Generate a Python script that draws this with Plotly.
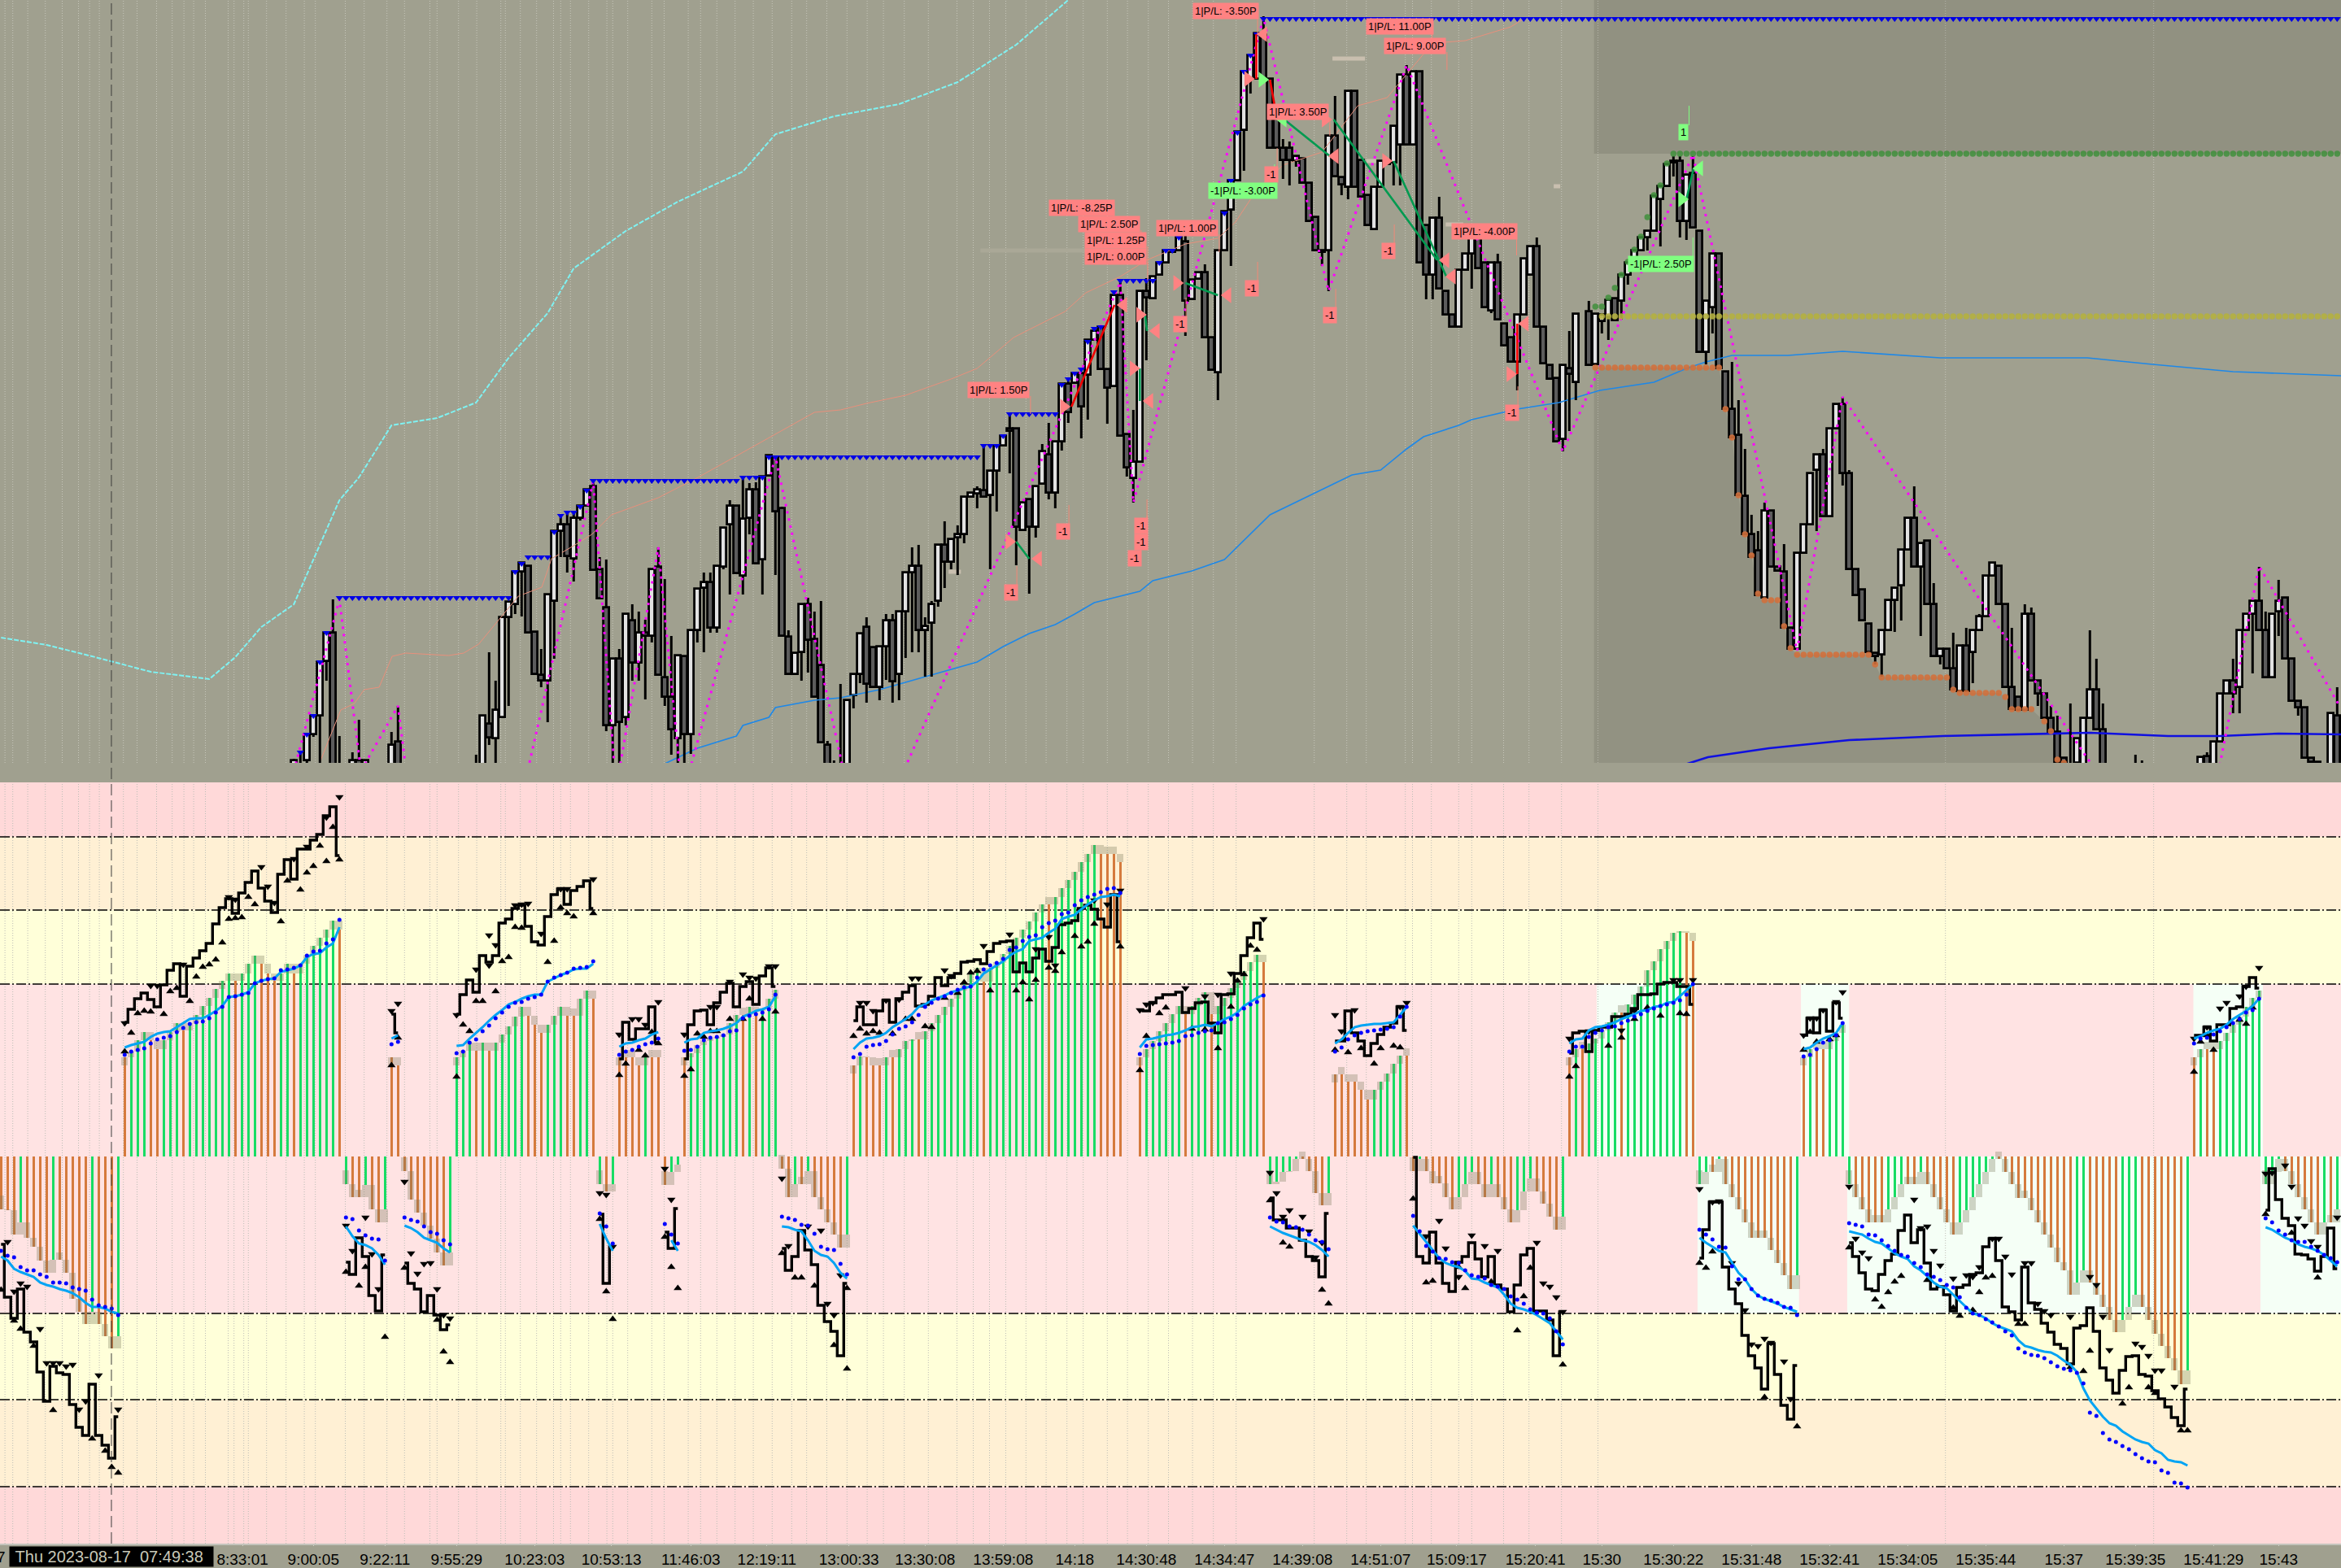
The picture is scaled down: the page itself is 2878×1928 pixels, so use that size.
import plotly.graph_objects as go
from plotly.subplots import make_subplots

# ---------- upper panel: candles (bar, open, high, low, close) ----------
candles_a = [(45,-5,7,-15,5),(46,-10,15,-20,-5),(47,5,37,-10,37),(48,37,60,34,60),(49,60,126,-20,126),(50,127,162,103,162),
(51,162,203,-20,-20),(52,-10,35,-20,-15),(54,-5,15,-20,5),(55,5,55,-20,-5),(56,-5,5,-20,5),(60,-20,40,-20,24),(61,28,72,-20,-20)]
candles_b = [(73,-20,12,-20,-10),(74,-20,60,-20,60),(75,50,138,24,33),(76,32,103,-20,67),(77,58,181,58,181),(78,181,200,72,200),
(79,197,237,185,237),(80,237,248,182,248),(81,244,244,162,162),(82,163,163,111,111),(83,110,142,95,103),(84,103,209,52,209),
(85,201,287,130,287),(86,287,305,255,295),(87,295,310,236,256),(88,253,310,225,303),(89,303,318,300,318),(90,318,338,318,338),
(91,342,348,239,239),(92,240,255,204,204),(93,193,252,41,48),(94,48,130,-20,130),(95,130,142,-20,52),(96,58,185,48,185),
(97,177,197,103,125),(98,125,188,103,162),(99,162,178,80,158),(100,158,240,150,240),(101,243,267,110,110),(102,107,228,72,83),
(103,83,158,12,43),(104,32,134,-20,134),(105,133,133,-20,37),(106,37,165,13,165),(107,165,216,150,216),(108,217,236,138,224),
(109,224,236,162,168),(110,168,244,162,244),(111,243,291,240,291),(112,295,325,209,318),(113,318,318,235,235),(114,232,355,209,302),
(115,303,346,283,338),(116,338,347,247,247),(117,252,354,209,354),(118,355,380,355,380),(119,378,378,233,311),(120,315,317,158,158),
(121,157,165,111,111),(122,111,137,111,137),(123,138,197,103,197),(124,197,205,113,153)]
candles_c = [(125,154,188,83,83),(126,122,201,27,27),(127,24,29,-20,-20),(128,-5,5,-20,-10),(129,-10,99,-20,-5),(130,-20,79,-20,79),
(131,85,111,69,111),(132,111,161,100,161),(133,169,181,76,99),(134,144,144,95,95),(135,95,145,79,145),(136,145,185,104,177),
(137,177,185,76,102),(138,111,188,79,188),(139,188,236,131,236),(140,236,267,138,244),(141,244,270,138,165),(142,165,181,108,170),
(143,174,201,108,197),(144,201,270,194,270),(145,270,299,217,249),(146,249,277,240,277),(147,279,294,233,283),(148,283,329,272,329),
(149,329,334,329,334),(150,333,342,315,338),(151,337,394,329,329),(152,331,361,240,361),(153,361,392,311,392),(154,392,404,392,404),
(155,413,431,358,410),(156,413,413,245,292),(157,288,322,288,322),(158,326,326,210,292),(159,292,342,279,342),(160,345,394,345,385),
(161,381,420,326,334),(162,334,397,315,397),(163,397,468,386,468),(164,468,474,420,433),(165,469,481,469,481),(166,481,481,401,440),
(167,479,522,424,522),(168,522,533,522,533),(169,538,538,486,486),(170,486,486,419,463)]
candles_d = [(171,465,577,465,577),(172,577,593,404,404),(173,406,406,354,365),(174,352,436,322,372),(175,372,582,372,582),(176,582,598,497,574),
(177,573,600,573,600),(178,602,617,602,617),(179,617,632,617,632),(180,630,632,630,632),(181,632,648,632,648),(182,643,652,527,570),
(183,572,596,572,596),(184,597,605,597,605),(185,605,615,525,525),(186,525,525,485,485),(187,482,632,448,632),(188,632,680,632,680),
(189,682,718,613,718),(190,718,778,718,778),(191,780,852,730,852),(192,843,872,825,872),(193,843,899,843,899),(194,897,920,843,843),
(195,843,843,758,758),(196,797,807,758,758),(197,758,769,720,743),(198,758,766,712,743),(199,742,748,735,748),(200,745,745,715,715),
(201,715,715,668,668),(202,673,673,632,632),(203,632,632,613,630),(204,632,773,582,773),(205,773,822,723,723),(206,722,722,700,713),
(207,710,828,695,828),(208,828,828,710,710),(209,743,743,698,698),(210,700,700,663,663),(211,658,710,658,710),(212,710,742,710,742),
(213,738,742,738,742),(214,740,785,712,785),(215,762,848,712,848),(216,848,860,762,762),(217,762,852,762,852),(218,852,852,617,617),
(219,663,663,572,602),(220,602,672,572,672),(221,672,698,585,585),(222,582,582,553,553),(223,553,553,538,538),(224,538,608,538,608),
(225,608,628,608,628),(226,628,647,585,647),(227,647,647,610,610),(228,617,617,562,562),(229,558,617,555,617),(230,617,628,547,547),
(231,542,542,515,515),(232,525,525,495,495),(233,495,553,460,553),(234,553,622,553,622),(235,602,637,602,637),(236,637,648,538,538),(237,538,538,493,493)]
candles_e = [(238,491,491,474,474),(239,475,475,397,397),(240,400,491,385,491),(241,487,533,410,480),(242,470,554,448,554),(244,557,570,491,491),
(245,492,554,492,554),(246,545,553,530,553),(247,550,571,522,571),(248,573,573,546,546),(249,570,602,547,602),(250,602,617,590,617),
(251,617,632,617,632),(252,632,648,632,648),(253,648,656,632,656),(254,656,699,656,699),(255,695,711,637,711),(256,711,738,711,738),
(257,740,748,723,742),(258,742,748,648,668),(259,668,725,645,725),(260,727,748,660,660),(261,656,656,507,507),(262,507,570,492,570),
(263,562,628,530,628),(264,628,628,487,487),(265,483,483,437,437),(266,437,495,402,402),(267,405,448,331,331),(268,330,388,283,283),
(269,283,307,255,255),(270,263,287,208,208),(271,205,322,205,312),(272,312,312,243,243),(273,243,243,238,238),(274,237,271,168,168),
(275,168,168,142,142),(276,142,260,142,260),(277,260,295,260,295),(278,295,358,295,358),(279,362,381,287,381),(280,381,388,305,305),
(281,305,413,305,413),(282,413,443,413,443),(283,443,452,343,358),(284,358,362,240,240),(285,240,240,208,208),(286,215,215,177,177),
(287,173,173,138,138),(288,137,137,123,133),(289,135,165,108,165),(290,165,202,165,202),(291,202,217,163,217),(292,220,264,177,264),
(293,264,303,264,303),(294,303,342,243,243),(295,243,272,158,272),(296,275,275,197,197),(297,197,223,133,133),(298,133,142,123,142),
(299,142,142,118,118),(300,118,162,92,92),(301,90,146,90,146),(302,146,168,90,90),(303,138,165,100,165),(304,165,185,165,182),
(305,182,232,182,232),(306,232,248,232,248),(307,244,244,197,197),(308,197,197,95,95),(309,95,168,68,68),(310,83,83,67,67),
(311,67,197,67,185),(312,185,193,103,103),(313,103,103,72,87),(314,87,87,57,57),(315,57,72,40,40),(316,40,60,3,3),(317,8,8,2,2),
(318,-5,75,-20,-10),(319,2,32,-20,32),(320,0,57,-20,57),(321,57,165,57,92),(322,92,130,43,43),(323,43,75,-20,-5),
(328,-10,12,-20,-5),(329,-10,5,-20,-5)]
candles_f = [(338,-5,9,-20,9),(339,10,15,-20,-5),(340,-5,28,-20,28),(341,28,87,28,87),(342,87,103,87,103),(343,103,130,63,87),
(344,95,165,63,165),(345,165,185,165,185),(346,185,201,112,201),(347,201,243,165,165),(348,165,188,107,107),(349,107,185,107,185),
(350,188,227,158,201),(351,205,205,130,130),(352,130,130,78,78),(353,78,78,60,70),(354,70,70,8,8),(355,8,8,3,3),(356,3,3,-5,0),
(358,-5,63,-20,63),(359,60,95,-20,-5)]

# stepped level marks (first bar, last bar, value)
resist_steps = [(46,46,15),(47,47,37),(48,48,60),(49,49,126),(50,50,162),(52,78,205),(79,79,237),(80,80,247),(81,84,255),(85,85,286),
(86,86,306),(87,88,310),(89,89,317),(90,90,337),(91,113,349),(114,117,353),(118,150,378),(151,153,392),(154,154,404),(155,162,431),
(163,163,467),(164,164,474),(165,165,481),(166,166,486),(167,167,520),(168,168,536),(169,169,538),(171,171,581),(172,177,595),
(178,178,617),(179,180,632),(181,181,648),(188,188,678),(189,189,718),(190,190,777),(191,191,852),(192,192,872),(193,193,898),(194,359,917)]
high_steps = [(245,246,563),(247,247,574),(248,248,586),(249,249,602),(250,250,618),(251,251,633),(252,252,649),(253,253,673),
(254,254,700),(255,255,712),(256,256,739),(257,359,751)]
mid_steps = [(246,359,551)]
low_steps = [(245,264,488),(265,265,437),(266,266,402),(267,267,331),(268,268,283),(269,269,257),(270,270,210),(271,273,202),
(274,274,170),(275,275,143),(276,287,135),(288,288,123),(289,299,107),(300,300,92),(301,307,88),(308,308,83),(309,312,68),
(314,314,53),(315,315,41),(316,316,6),(317,317,2)]

# zigzag, moving averages
zig_bars = [45,52,55.3,61,62.2,72,81,91,94.5,101,104.7,119,132.5,172,174,194,204,216,240,260,276,283,321,331,341,347,359.5]
zig_vals = [-8,203,-8,72,-5,-200,-5,348,-30,267,-40,378,-120,593,322,918,582,860,385,750,140,452,3,-250,1,244,70]
cyan_bars = [0,7,14,23,32,36,40,45,48,52,55,60,67,73,78,84,88,96,104,114,119,128,138,147,156,164]
cyan_vals = [156,147,133,114,105,132,169,197,252,325,353,417,426,445,500,555,610,656,692,729,775,797,812,839,885,940]
salmon_bars = [48.9,52.2,54.3,55.8,58.1,60.1,62.2,68.8,71.1,73.4,76.4,79.5,83.1,84.6,88.2,90.8,93.8,101,107.1,113.2,125,129,133,139,146,150,155.6,163.5,166.7,172,176,182,187,189.7,193,197,203,208.5,213,220,225,232,234]
salmon_vals = [1,67,75,92,95,133,137,134,137,148,177,207,218,253,270,283,307,328,353,380,433,436,444,454,474,487,525,557,580,600,620,640,647,667,707,737,753,810,820,887,890,907,917]
ma_bars = [102,107,113,114,118,119,125,129,135,142,150,154,158,162,165,168,175,177,183,188,195,207.6,212,216,218.6,224,226,233,239.4,245.7,254,259,262,266,274.6,283,298,320.6,330.6,343,359.8]
ma_vals = [1,20,35,48,58,70,79,82,92,108,126,145,161,172,185,199,213,226,238,252,307,356,362,388,403,417,424,437,445,460,470,487,495,503,503,508,500,500,492,483,478]
navy_bars = [258,262.3,271.7,284,298.4,315,321,333,341,350,359.7]
navy_vals = [-2,9,20,30,35,38,39,35,35,38,37]

# faint session smears (first bar, last bar, value)
smears = [(204.6,209.6,868),(222,224.7,664),(209.8,211.3,742),(238.6,239.6,711),(145.6,147.5,237)]
faint_smears = [(150.5,176,632)]

# trades: (entry bar, entry value, exit bar, exit value)
trades_red = [(192.9,898,192.9,843),(195.0,842,196.1,793),(164.5,440,171.1,565),(233,542,233,480)]
trades_green = [(197.2,793,204.2,748),(204.8,793,220.7,620),(214,742,222.1,600),(182,592,187,577),(175.8,553,176.1,533),(175,487,175,447),(156,274,158,253)]
trades_win = [(259,695,260.1,733)]
pink_right = [(191.6,843),(203.5,793),(212.8,742),(163.3,440),(180.7,592),(175,553),(174,487),(231.9,480),(154.9,274)]
pink_left = [(194,898),(205,748),(222,620),(223,600),(172.5,565),(188.5,577),(177.5,533),(176.5,447),(234.2,542),(159.4,253)]
green_right = [(193.8,842),(258.3,695)]
green_left = [(197,793),(261,733)]

pl_text = ["1|P/L: -3.50P","1|P/L: 11.00P","1|P/L: 9.00P","1|P/L: 3.50P","-1","1|P/L: -8.25P","1|P/L: 2.50P","1|P/L: 1.25P","1|P/L: 0.00P","1|P/L: 1.00P","-1","1|P/L: -4.00P","-1","-1","-1","1|P/L: 1.50P","-1","-1","-1","-1","-1","-1"]
pl_bar = [188.2,215,217.3,199.3,195.2,166.1,170.3,171.3,171.3,182.3,192.2,228,213.2,204.2,181.2,153.3,155.2,163.2,175.2,175.2,174.2,232.2]
pl_val = [927,908,884,803,726,685,665,645,625,660,586,656,632,553,542,461,212,287,294,274,254,433]
win_text = ["-1|P/L: -3.00P","-1|P/L: 2.50P","1"]
win_bar = [190.8,255.1,258.5]
win_val = [706,616,778]

# ---------- lower panel: delta sessions ----------
seg_starts = [0,19,53,60,62,70,92,95,102,105,120,131,175,195,205,217,241,261,277,284,337,348]
hist = {
0:[-65,-66,-96,-81,-100,-111,-128,-143,-127,-127,-143,-175,-191,-206,-191,-206,-221,-236,-221],
19:[122,129,143,153,143,132,143,153,164,155,164,174,185,195,206,216,225,216,225,237,247,237,225,216,225,237,225,237,247,259,269,279,290,279],
53:[-34,-50,-50,-35,-65,-81,-65],
60:[122,112],
62:[-18,-53,-69,-85,-101,-118,-134,-118],
70:[122,130,140,130,140,130,140,150,160,172,184,173,162,152,162,173,184,173,173,194,204,194],
92:[-34,-43,-34],
95:[122,122,122,112,122,122,122],
102:[-35,-19,-10],
105:[122,127,137,142,145,147,150,164,174,174,184,179,182,194,205],
120:[-15,-50,-34,-34,-18,-50,-65,-81,-96,-112,-96],
131:[112,123,122,112,112,122,122,132,142,144,144,154,164,174,184,194,204,214,225,232,215,232,239,249,259,269,279,289,300,310,310,319,330,340,350,362,372,383,372,372,372,362],
175:[122,132,142,154,164,175,185,175,185,195,202,175,185,195,207,217,228,239,248,239],
195:[-34,-31,-19,-18,-3,-3,-18,-45,-60,-45],
205:[101,101,92,92,82,70,82,92,102,114,124,124],
217:[-18,-3,-18,-33,-33,-50,-65,-50,-34,-19,-34,-50,-34,-50,-65,-81,-66,-43,-27,-43,-58,-74,-90,-74],
241:[122,132,132,139,145,155,165,177,177,187,199,209,229,240,255,265,275,277,275,265],
261:[-34,-19,-19,-3,-34,-50,-65,-81,-100,-100,-100,-115,-131,-146,-163,-146],
277:[122,132,132,132,142,152,162],
284:[-34,-50,-65,-81,-81,-81,-65,-50,-34,-34,-34,-19,-34,-50,-65,-81,-96,-81,-66,-50,-34,-19,-3,-3,-19,-34,-51,-51,-66,-81,-96,-112,-130,-140,-170,-155,-140,-155,-170,-185,-201,-216,-201,-185,-170,-185,-201,-218,-233,-248,-263,-280,-263],
337:[122,132,132,132,142,152,162,172,184,195,204],
348:[-34,-19,-3,-18,-34,-50,-65,-81,-96,-81,-81,-65],
}
first_green = [70,53,92,195,261,284,348]
delta = {
0:[-108,-173,-199,-163,-216,-228,-265,-301,-258,-266,-268,-305,-333,-343,-280,-343,-355,-371,-320],
19:[165,181,194,201,193,184,211,229,237,197,234,244,253,262,286,306,317,299,324,337,351,330,314,300,347,365,341,378,378,389,396,419,430,370],
53:[-130,-145,-100,-123,-171,-190,-121],
60:[175,152],
62:[-131,-156,-163,-191,-171,-195,-213,-207],
70:[175,199,217,202,247,239,247,287,292,305,309,283,264,260,295,322,329,310,327,332,339,305],
92:[-71,-156,-111],
95:[120,165,144,157,157,184,140],
102:[-93,-113,-64],
105:[120,162,179,180,162,189,202,213,184,209,215,187,222,232,209],
120:[-113,-140,-123,-91,-115,-133,-183,-203,-215,-245,-156],
131:[167,184,162,162,179,192,165,194,202,210,185,187,197,220,210,220,225,239,240,242,237,252,262,264,265,227,238,227,244,255,240,257,285,287,290,305,309,304,292,282,322,264],
175:[180,179,189,195,199,199,202,177,182,189,190,164,152,199,200,225,247,269,287,267],
195:[-51,-78,-78,-88,-88,-103,-123,-128,-148,-70],
205:[142,142,179,152,142,124,139,150,159,164,184,155],
217:[-1,-123,-131,-93,-131,-156,-166,-130,-123,-106,-126,-148,-123,-158,-163,-191,-158,-121,-113,-190,-190,-201,-245,-191],
241:[127,152,154,129,155,159,159,172,172,175,182,199,199,200,212,214,214,209,209,187],
261:[-125,-90,-56,-56,-136,-163,-181,-220,-245,-260,-286,-230,-268,-306,-323,-257],
277:[149,170,152,180,154,189,170],
284:[-106,-123,-143,-163,-165,-145,-128,-120,-91,-72,-106,-90,-131,-163,-160,-170,-190,-161,-158,-145,-143,-111,-101,-128,-185,-191,-201,-136,-180,-188,-205,-216,-231,-236,-255,-211,-208,-186,-215,-260,-275,-291,-263,-246,-245,-268,-270,-288,-298,-308,-321,-331,-286],
337:[149,149,159,142,162,162,182,184,209,220,207],
348:[-66,-15,-53,-76,-85,-120,-121,-126,-141,-123,-88,-138],
}
smooth = {
0:[-123,-128,-138,-142,-145,-148,-155,-158,-160,-163,-165,-168,-173,-180,-185,-185,-187,-191,-193],
19:[134,137,139,141,147,151,153,154,159,164,169,170,170,174,179,185,196,197,199,202,213,216,218,219,227,229,231,235,245,249,250,257,262,282],
53:[-86,-98,-107,-109,-113,-121,-133],
60:[145,149],
62:[-85,-88,-93,-100,-103,-106,-113,-118],
70:[136,137,145,152,159,167,174,180,187,190,194,197,199,199,215,219,223,226,230,231,231,237],
92:[-83,-101,-116],
95:[135,139,140,143,145,150,153],
103:[-103,-116],
105:[140,144,145,152,154,155,157,160,164,172,175,179,181,184,197],
120:[-86,-87,-90,-92,-103,-116,-121,-123,-131,-143,-150],
131:[132,140,145,146,148,152,159,164,169,175,184,187,192,195,198,202,204,207,209,215,225,230,235,240,247,252,255,265,267,269,275,280,292,295,297,304,310,315,319,320,322,320],
175:[134,144,145,147,149,150,152,155,159,160,162,160,164,169,172,177,185,190,195,199],
195:[-86,-90,-94,-97,-100,-103,-105,-109,-115,-123],
205:[139,144,152,159,161,162,163,163,164,165,174,184],
217:[-85,-95,-105,-116,-125,-131,-134,-136,-141,-150,-151,-155,-158,-161,-170,-181,-186,-188,-191,-195,-200,-205,-215,-225],
241:[139,144,145,155,159,160,162,165,169,172,175,179,180,184,185,189,190,197,205,212],
261:[-100,-106,-111,-116,-118,-130,-143,-151,-163,-171,-175,-178,-181,-185,-188,-191],
277:[132,134,140,145,148,152,164],
284:[-92,-94,-96,-101,-105,-107,-113,-119,-123,-126,-135,-140,-147,-155,-160,-162,-170,-178,-186,-193,-195,-199,-205,-209,-212,-215,-226,-233,-235,-238,-240,-241,-245,-251,-256,-265,-285,-300,-310,-320,-328,-331,-338,-343,-348,-351,-353,-361,-365,-373,-375,-376,-380],
337:[145,148,152,155,157,162,169,174,179,185,194],
348:[-87,-90,-95,-100,-103,-108,-111,-113,-116,-121,-128,-135],
}
signal = {
0:[-116,-122,-124,-136,-140,-140,-145,-148,-155,-155,-156,-161,-163,-165,-176,-183,-185,-187,-195],
19:[125,129,131,133,139,144,146,148,153,158,163,165,166,170,177,184,196,197,199,201,213,216,218,219,229,230,232,235,247,252,253,262,267,291],
53:[-75,-77,-91,-97,-101,-102,-128],
60:[138,141],
62:[-75,-78,-80,-86,-93,-95,-103,-108],
70:[127,129,140,144,154,161,170,177,184,189,190,194,196,199,215,220,223,226,231,232,233,240],
92:[-70,-86,-107],
95:[125,129,131,135,138,140,145],
102:[-83,-96,-107],
105:[130,131,135,143,146,147,149,154,155,170,173,175,177,181,199],
120:[-74,-76,-78,-84,-85,-95,-111,-114,-115,-132,-145],
131:[122,126,135,137,138,142,150,157,160,165,174,184,189,194,197,201,205,208,209,220,230,235,238,243,254,257,265,270,272,282,287,290,298,300,309,315,319,322,325,329,330,324],
175:[126,136,137,138,139,140,142,148,149,152,154,155,164,165,169,174,182,187,190,198],
195:[-75,-80,-81,-86,-87,-90,-96,-103,-105,-114],
205:[129,134,144,149,152,154,155,156,157,159,172,184],
217:[-73,-92,-110,-117,-125,-126,-130,-131,-140,-146,-148,-150,-158,-160,-163,-172,-176,-181,-188,-192,-193,-199,-215,-231],
241:[129,135,135,147,152,155,159,160,164,167,172,175,179,182,185,187,189,192,199,212],
261:[-90,-96,-102,-111,-112,-135,-151,-151,-163,-171,-175,-177,-180,-185,-186,-195],
277:[123,125,132,140,143,149,164],
284:[-82,-84,-86,-96,-97,-103,-110,-116,-121,-123,-131,-136,-145,-148,-152,-158,-161,-173,-186,-193,-195,-200,-204,-209,-215,-220,-236,-241,-244,-245,-248,-253,-258,-261,-263,-266,-279,-315,-319,-340,-348,-351,-356,-360,-366,-371,-375,-376,-386,-389,-401,-402,-407],
337:[139,145,146,150,154,159,164,169,177,180,194],
348:[-76,-81,-91,-96,-103,-105,-105,-111,-116,-121,-125,-130],
}
# swing marks (bar, value)
swing_lows = [(19,135),(20,158),(21,182),(22,185),(23,184),(25,181),(26,209),(27,213),(29,197),(30,227),(31,239),(32,242),(33,248),(34,269),(35,298),(36,299),(37,300),(38,325),(39,316),(43,295),(44,345),(46,334),(47,355),(48,363),(49,388),(50,369),(51,411),(52,371),
(60,118),(61,152),(70,104),(71,168),(72,160),(73,197),(74,197),(76,209),(77,246),(78,251),(79,288),(80,287),(84,245),(85,271),(86,312),(87,305),(88,301),(91,305),
(95,106),(96,120),(98,137),(99,130),(100,159),(101,145),(105,105),(106,113),(107,157),(108,153),(109,160),(110,160),(112,175),(114,175),(115,200),(117,175),(119,184),
(131,154),(132,163),(133,157),(134,160),(135,158),(137,157),(139,175),(140,175),(142,166),(143,165),(145,201),(147,207),(148,220),(149,232),(150,234),(152,210),(156,210),(157,220),(158,199),(159,223),(161,238),(162,234),(163,257),(165,277),(166,264),(167,270),(168,292),(172,264),
(175,112),(176,154),(178,182),(179,189),(183,163),(185,162),(187,139),(189,190),(190,222),(191,230),(192,265),(193,260),(205,137),(207,134),(209,139),(211,120),(212,139),(214,142),(215,140),
(241,104),(242,117),(247,142),(249,152),(251,175),(253,189),(255,179),(258,182),(259,181),(277,137),(278,159),(279,147),(281,150),(282,155),(337,110),(338,147),(339,155),(340,137),(344,174),(345,169),(346,189),
(0,-158),(2,-196),(3,-206),(5,-227),(8,-306),(14,-341),(16,-356),(17,-376),(18,-383),(53,-136),(55,-153),(56,-130),(59,-216),(62,-131),(67,-195),(68,-234),(69,-247),(92,-71),(93,-160),(94,-194),(102,-93),(103,-130),(104,-156),
(120,-113),(122,-143),(123,-143),(125,-153),(128,-226),(130,-255),(130,-156),(195,-48),(197,-100),(198,-105),(203,-158),(204,-175),(217,-46),(219,-149),(220,-147),(224,-130),(225,-156),(229,-148),(233,-208),(234,-166),(235,-131),(240,-250),
(261,-125),(262,-131),(263,-111),(271,-290),(276,-326),(284,-106),(288,-170),(289,-179),(290,-161),(291,-148),(292,-141),(296,-146),(300,-180),(301,-190),(303,-183),(304,-161),(305,-143),(306,-141),(310,-200),(311,-200),(318,-253),(320,-258),(321,-233),(326,-298),(327,-278),(330,-278),(331,-285),(335,-331),(336,-331),(348,-65),(352,-88),(356,-143)]
swing_highs = [(19,164),(23,210),(24,210),(28,236),(35,319),(36,316),(40,356),(41,332),(42,312),(45,366),(47,381),(50,417),(52,442),(60,179),(61,188),
(70,174),(73,230),(75,235),(75,272),(76,260),(79,309),(80,310),(81,311),(83,274),(86,329),(87,329),(91,341),(95,150),(97,169),(98,169),(99,162),(101,190),
(105,150),(109,184),(110,184),(112,215),(114,224),(115,220),(116,219),(118,234),(119,234),(132,189),(133,189),(134,179),(136,192),(138,193),(140,219),(141,219),(145,229),(146,222),(151,259),(155,273),(159,255),(161,270),(162,235),(168,315),(170,310),(172,327),
(175,180),(176,187),(177,189),(182,207),(185,197),(187,199),(189,225),(194,292),(205,174),(206,154),(208,180),(216,189),(215,184),(241,145),(244,154),(249,155),(251,179),(257,217),(258,217),(260,217),
(277,149),(278,170),(279,170),(280,180),(282,190),(283,202),(337,145),(339,159),(341,182),(342,189),(344,197),(345,209),(347,232),
(1,-105),(2,-166),(3,-156),(4,-160),(6,-212),(7,-254),(8,-254),(9,-254),(10,-258),(11,-256),(12,-311),(13,-301),(15,-269),(18,-311),(53,-85),(54,-116),(56,-75),(57,-120),(58,-163),
(62,-31),(63,-119),(64,-144),(65,-132),(66,-131),(67,-163),(68,-195),(69,-199),(92,-45),(93,-47),(94,-111),(102,-15),(103,-53),(120,-27),(121,-110),(124,-86),(126,-91),(127,-181),(128,-195),(129,-146),
(195,-20),(196,-45),(197,-74),(198,-66),(200,-74),(201,-92),(202,-124),(203,-106),(219,-98),(221,-79),(222,-113),(224,-148),(226,-97),(228,-110),(230,-116),(236,-106),(237,-156),(238,-160),(239,-173),(240,-191),
(261,-40),(263,-56),(264,-55),(266,-131),(267,-156),(268,-189),(269,-231),(270,-233),(271,-224),(272,-229),(274,-252),(275,-298),
(284,-37),(285,-101),(286,-118),(287,-125),(294,-53),(295,-88),(296,-86),(297,-116),(298,-134),(300,-150),(302,-146),(303,-148),(304,-136),(306,-101),(307,-101),(308,-123),(309,-145),(311,-131),(312,-131),(313,-181),(314,-190),(315,-195),(318,-197),(321,-148),(322,-158),(323,-197),(324,-238),(328,-230),(329,-234),(330,-245),(331,-263),(332,-263),(334,-283),
(348,-21),(349,-20),(351,-11),(352,-37),(353,-76),(354,-85),(355,-104),(356,-111),(359,-75)]

# level lines of the lower panel and its colour bands (from, to)
level_lines = [393,303,212,-193,-299,-406]
band_edges = [460,393,303,212,-193,-299,-406,-476]
band_fill = ["#FFD9D9","#FFF0D4","#FFFFD9","#FFE3E3","#FFFFD9","#FFF0D4","#FFD9D9"]
calm_zones_up = [(245.2,260.4),(276.6,284),(336.9,347.6)]
calm_zones_down = [(260.7,276.3),(283.7,336.3),(347.2,360)]

grid_bars = [0.6,1.8,4.1,6.8,9.4,11.9,13.6,15.1,18.8,20.9,23.9,26.3,28.1,29.6,31.4,34.9,35.8,37.3,38,40.8,43.8,46.6,48.3,52.9,55.8,59.3,62,65.9,67,70.3,73.1,76.8,77.5,79.8,82.3,84.9,86,
87.5,90.3,93.1,94,96.3,100,101.9,105.6,107.5,110,112.8,115.6,118.5,121.5,123.8,126.9,130,133.1,135.6,138.8,142.5,146.9,149.4,151.9,154.4,157.5,160.6,163.8,166.3,170,173.1,176.3,179.4,183.1,186.3,
189.8,201.8,206.8,209.8,215.8,216.9,219.8,224,226,230.9,234.8,239.8,245.4,298.8,330.8]

tick_bars = [37.1,48,59,70,82,93.8,106,117.7,130.3,142,154,165,176,188,200,212,223.7,235.8,246,257,269,281,293,305,317,328,340,350]
tick_text = ["8:33:01","9:00:05","9:22:11","9:55:29","10:23:03","10:53:13","11:46:03","12:19:11","13:00:33","13:30:08","13:59:08","14:18","14:30:48","14:34:47","14:39:08","14:51:07","15:09:17","15:20:41","15:30","15:30:22","15:31:48","15:32:41","15:34:05","15:35:44","15:37","15:39:35","15:41:29","15:43"]
cursor_bar = 16.96
cursor_text = "&nbsp;Thu 2023-08-17&nbsp;&nbsp;07:49:38&nbsp;&nbsp;"

# ---------- colours ----------
PANEL = "#A0A08F"; UP = "#E2E2E2"; DOWN = "#5C5C5C"; GREEN = "#18DC64"; ORANGE = "#D57A3D"
PINK = "#FF8282"; WIN = "#80FF80"

W, H = 2878, 1928
fig = make_subplots(rows=2, cols=1, shared_xaxes=False, vertical_spacing=0)
xr = [-0.1625, 359.5875]

def expand(steps):
    xs, ys = [], []
    for a, b, v in steps:
        for i in range(a, b + 1):
            xs.append(i); ys.append(v)
    return xs, ys

def plain(x, y, col, width, dash=None, shape="linear"):
    return go.Scatter(x=x, y=y, mode="lines", line=dict(color=col, width=width, dash=dash, shape=shape), hoverinfo="skip")

lx, ly = expand(low_steps)
hx, hy = expand(high_steps)

# upper panel ------------------------------------------------
def smear_xy(rows):
    sx, sy = [], []
    for a, b, v in rows:
        sx += [a, b, None]; sy += [v, v, None]
    return sx, sy
fig.add_trace(plain(*smear_xy(smears), "#C9BFAF", 5), row=1, col=1)
fig.add_trace(plain(*smear_xy(faint_smears), "#AAA897", 5), row=1, col=1)
fig.add_trace(plain(cyan_bars, cyan_vals, "#7FF2F2", 2, "6px,2px"), row=1, col=1)
fig.add_trace(plain(salmon_bars, salmon_vals, "#E8907C", 1), row=1, col=1)
fig.add_trace(plain(ma_bars, ma_vals, "#1E88E8", 1.6), row=1, col=1)
fig.add_trace(plain(navy_bars, navy_vals, "#1010E0", 2.6), row=1, col=1)

all_c = candles_a + candles_b + candles_c + candles_d + candles_e + candles_f
wx, wy = [], []
for b, o, h, l, c in all_c:
    top, bot = max(o, c), min(o, c)
    if h > top:
        wx += [b, b, None]; wy += [top, h, None]
    if l < bot:
        wx += [b, b, None]; wy += [l, bot, None]
fig.add_trace(plain(wx, wy, "black", 3), row=1, col=1)
fig.add_trace(go.Bar(x=[r[0] for r in all_c], base=[min(r[1], r[4]) for r in all_c],
    y=[max(abs(r[4] - r[1]), 1.5) for r in all_c], width=0.92,
    marker=dict(color=[UP if r[4] >= r[1] else DOWN for r in all_c], line=dict(color="black", width=2.8)), hoverinfo="skip"), row=1, col=1)

fig.add_trace(plain(zig_bars, zig_vals, "#FF00FF", 3, "3px,6px"), row=1, col=1)
rx, ry = expand(resist_steps)
fig.add_trace(go.Scatter(x=rx, y=ry, mode="markers", marker=dict(symbol="triangle-down", size=8, color="#0000E6"), hoverinfo="skip"), row=1, col=1)
fig.add_trace(go.Scatter(x=hx, y=hy, mode="markers", marker=dict(symbol="circle", size=7.5, color="#3F8F3C", opacity=0.85), hoverinfo="skip"), row=1, col=1)
mx, my = expand(mid_steps)
fig.add_trace(go.Scatter(x=mx, y=my, mode="markers", marker=dict(symbol="circle", size=7.5, color="#B4B040", opacity=0.9), hoverinfo="skip"), row=1, col=1)
fig.add_trace(go.Scatter(x=lx, y=ly, mode="markers", marker=dict(symbol="circle", size=7.5, color="#D2703C", opacity=0.9), hoverinfo="skip"), row=1, col=1)

def trade_lines(tr, col):
    xs, ys = [], []
    for a, b, c, d in tr:
        xs += [a, c, None]; ys += [b, d, None]
    fig.add_trace(plain(xs, ys, col, 2.6), row=1, col=1)
trade_lines(trades_red, "#F00000")
trade_lines(trades_green, "#009A50")
trade_lines(trades_win, "#009A50")
for pts, sym, col in [(pink_right, "triangle-right", PINK), (pink_left, "triangle-left", PINK), (green_right, "triangle-right", WIN), (green_left, "triangle-left", WIN)]:
    fig.add_trace(go.Scatter(x=[p[0] for p in pts], y=[p[1] for p in pts], mode="markers",
        marker=dict(symbol=sym, size=17, color=col), hoverinfo="skip"), row=1, col=1)

# label stems
def stems(texts, bars, vals, col):
    xs, ys = [], []
    for t, b, v in zip(texts, bars, vals):
        half = 0.9 if len(t) < 3 else 4.9
        xs += [b + half, b + half, None]
        if t.startswith("-1|") or len(t) < 3:
            ys += [v + 8, v + 32, None]
        else:
            ys += [v - 8, v - 30, None]
    fig.add_trace(plain(xs, ys, col, 1), row=1, col=1)
stems(pl_text, pl_bar, pl_val, "#F08878")
stems(win_text, win_bar, win_val, WIN)

# lower panel ------------------------------------------------
hb, hv, hc, gb, gbase, gh = [], [], [], [], [], []
for s in seg_starts:
    vals = hist[s]
    for k, v in enumerate(vals):
        i = s + k
        if k == 0:
            op = v - 10 if v > 0 else v + 17
            col = GREEN if s in first_green else ORANGE
        else:
            op = vals[k - 1]
            col = GREEN if v > op else ORANGE
        if op == v:
            op = v + 9
        hb.append(i); hv.append(v); hc.append(col)
        gb.append(i); gbase.append(min(op, v)); gh.append(abs(v - op))
fig.add_trace(go.Bar(x=hb, y=hv, width=0.42, marker=dict(color=hc, line=dict(width=0)), hoverinfo="skip"), row=2, col=1)
fig.add_trace(go.Bar(x=gb, y=gh, base=gbase, width=1, marker=dict(color="rgba(120,120,90,0.32)", line=dict(width=0)), hoverinfo="skip"), row=2, col=1)

def series_xy(d):
    xs, ys = [], []
    for s, vals in d.items():
        xs += [s + k for k in range(len(vals))] + [None]
        ys += list(vals) + [None]
    return xs, ys

dx, dy = series_xy(delta)
fig.add_trace(plain(dx, dy, "black", 3.4, None, "hvh"), row=2, col=1)
fig.add_trace(go.Scatter(x=[p[0] for p in swing_lows], y=[p[1] - 6 for p in swing_lows], mode="markers", marker=dict(symbol="triangle-up", size=9, color="black"), hoverinfo="skip"), row=2, col=1)
fig.add_trace(go.Scatter(x=[p[0] for p in swing_highs], y=[p[1] + 0 for p in swing_highs], mode="markers", marker=dict(symbol="triangle-down", size=9, color="black"), hoverinfo="skip"), row=2, col=1)
cx, cy = series_xy(smooth)
fig.add_trace(plain(cx, cy, "#00A4F4", 3), row=2, col=1)
ox, oy = series_xy(signal)
fig.add_trace(go.Scatter(x=ox, y=oy, mode="markers", marker=dict(symbol="circle", size=5, color="#0000FF"), hoverinfo="skip"), row=2, col=1)

# bands, levels, grid, shaded regions ------------------------
shapes = []
for k, col in enumerate(band_fill):
    shapes.append(dict(type="rect", xref="x2", yref="y2", x0=xr[0], x1=xr[1], y0=band_edges[k + 1], y1=band_edges[k], fillcolor=col, line=dict(width=0), layer="below"))
for a, b in calm_zones_up:
    shapes.append(dict(type="rect", xref="x2", yref="y2", x0=a, x1=b, y0=0, y1=212, fillcolor="#F5FFF6", line=dict(width=0), layer="below"))
for a, b in calm_zones_down:
    shapes.append(dict(type="rect", xref="x2", yref="y2", x0=a, x1=b, y0=-193, y1=0, fillcolor="#F5FFF6", line=dict(width=0), layer="below"))
for g in grid_bars:
    shapes.append(dict(type="line", xref="x2", yref="y2", x0=g, x1=g, y0=-476, y1=460, line=dict(color="#BDBDB6", width=1, dash="1px,2px"), layer="below"))
    shapes.append(dict(type="line", xref="x", yref="y", x0=g, x1=g, y0=2, y1=940, line=dict(color="#C6C6BA", width=1, dash="1px,2px"), layer="below"))
for v in level_lines:
    shapes.append(dict(type="line", xref="x2", yref="y2", x0=xr[0], x1=xr[1], y0=v, y1=v, line=dict(color="black", width=1.5, dash="12px,3px,2px,3px"), layer="below"))
poly = "M 244.8 488 " + " ".join(f"L {a} {b}" for a, b in zip(lx, ly)) + " L 318 0 L 318 2 L 244.8 2 Z"
shapes.append(dict(type="path", xref="x", yref="y", path=poly, fillcolor="rgba(40,40,30,0.11)", line=dict(width=0), layer="below"))
shapes.append(dict(type="rect", xref="x", yref="y", x0=244.8, x1=360, y0=751, y1=940, fillcolor="rgba(40,40,30,0.12)", line=dict(width=0), layer="below"))
shapes.append(dict(type="line", xref="x", yref="paper", x0=cursor_bar, x1=cursor_bar, y0=30 / H, y1=1, line=dict(color="#3C3C3C", width=1, dash="14px,6px")))

ann = []
for t, b, v in zip(pl_text, pl_bar, pl_val):
    ann.append(dict(x=b, y=v, xref="x", yref="y", text=t, showarrow=False, bgcolor=PINK, font=dict(family="Liberation Sans", size=13, color="black"), borderpad=2))
for t, b, v in zip(win_text, win_bar, win_val):
    ann.append(dict(x=b, y=v, xref="x", yref="y", text=t, showarrow=False, bgcolor=WIN, font=dict(family="Liberation Sans", size=13, color="black"), borderpad=2))
ann.append(dict(x=cursor_bar, y=-476, xref="x2", yref="y2", yanchor="top", yshift=-3, text=cursor_text, showarrow=False, bgcolor="black",
    font=dict(family="Liberation Sans", size=20, color="#C8C8B8"), borderpad=1))
ann.append(dict(x=0.02, y=-476, xref="x2", yref="y2", yanchor="top", yshift=-4, text="7", showarrow=False, font=dict(family="Liberation Sans", size=19, color="black")))

fig.update_layout(width=W, height=H, margin=dict(l=0, r=0, t=0, b=0), autosize=False, paper_bgcolor=PANEL, plot_bgcolor="rgba(0,0,0,0)",
    showlegend=False, barmode="overlay", bargap=0, shapes=shapes, annotations=ann, hovermode=False)
fig.update_xaxes(range=xr, showgrid=False, zeroline=False, showticklabels=False, ticks="")
fig.update_yaxes(showgrid=False, zeroline=False, showticklabels=False, ticks="")
fig.update_layout(
    yaxis=dict(domain=[(H - 938) / H, 1], range=[2, 940]),
    yaxis2=dict(domain=[30 / H, (H - 962) / H], range=[-476, 460]),
    xaxis2=dict(showticklabels=True, tickvals=tick_bars, ticktext=tick_text, ticks="outside", ticklen=1, tickcolor="#D0D0C8", tickwidth=1,
        showline=True, linecolor="#C4C4BC", linewidth=2, tickfont=dict(family="Liberation Sans", size=19, color="black"), range=xr),
)
fig.write_html("out.html", config={"displayModeBar": False},
               post_script="document.body.style.margin='0';document.body.style.overflow='hidden';")
